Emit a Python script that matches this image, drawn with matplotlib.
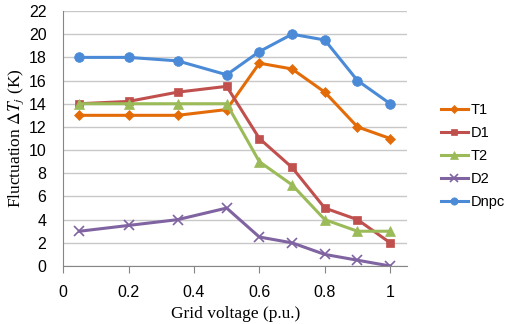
import matplotlib.pyplot as plt

plt.rcParams['mathtext.fontset'] = 'stix'

# 各器件结温波动随电网电压变化
voltage = [0.05, 0.2, 0.35, 0.5, 0.6, 0.7, 0.8, 0.9, 1.0]
t1 = [13, 13, 13, 13.5, 17.5, 17, 15, 12, 11]
d1 = [14, 14.2, 15, 15.5, 11, 8.5, 5, 4, 2]
t2 = [14, 14, 14, 14, 9, 7, 4, 3, 3]
d2 = [3, 3.5, 4, 5, 2.5, 2, 1, 0.5, 0]
dnpc = [18, 18, 17.7, 16.5, 18.5, 20, 19.5, 16, 14]

series = [
    ('T1', t1, '#E36C09', 'D', 5),
    ('D1', d1, '#C0504D', 's', 5.5),
    ('T2', t2, '#9BBB59', '^', 7),
    ('D2', d2, '#8064A2', 'x', 7),
    ('Dnpc', dnpc, '#4A8AD6', 'o', 7),
]

fig = plt.figure(figsize=(5.09, 3.24), dpi=100)
ax = fig.add_axes([0.124, 0.179, 0.676, 0.787])

for name, vals, color, mk, ms in series:
    ax.plot(voltage, vals, color=color, lw=2.2, marker=mk, markersize=ms,
            markeredgewidth=1.2 if mk == 'x' else 0.5, label=name)

ax.set_xlim(0, 1.052)
ax.set_ylim(0, 22)
ax.set_yticks(range(0, 23, 2))
ax.set_xticks([0, 0.2, 0.4, 0.6, 0.8, 1.0])
ax.set_xticklabels(['0', '0.2', '0.4', '0.6', '0.8', '1'])
ax.grid(axis='y', color='#C8C8C8', lw=1)
ax.set_axisbelow(True)
for s in ['top', 'right']:
    ax.spines[s].set_visible(False)
ax.spines['left'].set_color('#868686')
ax.spines['bottom'].set_color('#868686')
ax.tick_params(axis='y', length=0, pad=12, labelsize=11.5)
ax.tick_params(axis='x', length=5, color='#868686', pad=9, labelsize=11.5)
for lab in ax.get_xticklabels() + ax.get_yticklabels():
    lab.set_fontfamily('Liberation Sans')

ax.set_xlabel('Grid voltage (p.u.)', fontfamily='Liberation Serif', fontsize=12.5, labelpad=4)
ax.set_ylabel(r'Fluctuation $\Delta T_j$ (K)', fontfamily='Liberation Serif', fontsize=12.5, labelpad=2)

ax.legend(loc='upper left', bbox_to_anchor=(1.06, 0.69), frameon=False,
          prop={'family': 'Liberation Sans', 'size': 10.5}, handlelength=1.85,
          labelspacing=0.62, handletextpad=0.2, markerscale=0.75)

fig.savefig('out.png', dpi=100)
